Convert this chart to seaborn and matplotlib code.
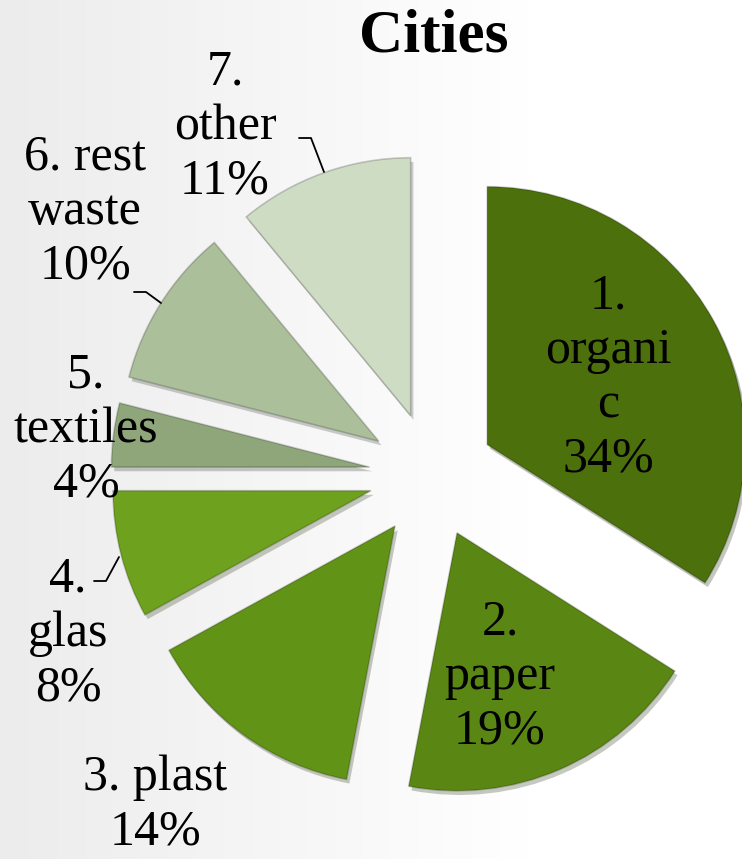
import numpy as np
import matplotlib.pyplot as plt
import matplotlib.patheffects as pe
import seaborn as sns

# waste composition in cities
categories = ["1.\norgani\nc", "2.\npaper", "3. plast", "4.\nglas",
              "5.\ntextiles", "6. rest\nwaste", "7.\nother"]
shares = [34, 19, 14, 8, 4, 10, 11]
colors = ["#4b700c", "#5a8713", "#619317", "#6ea11d",
          "#8ea67a", "#aabf9a", "#cfdcc4"]

# label placement (pixels, y measured from top)
label_pos = [(608, 378), (500, 677), (155, 805), (68, 634),
             (86, 430), (85, 212), (225, 127)]
leaders = {
    3: [(94, 581), (106, 581), (119, 557)],
    5: [(134, 292), (146, 292), (161, 303)],
    6: [(299, 138), (311, 138), (324, 172)],
}

W, H = 742, 859
sns.set_theme(style="white")
plt.rcParams['font.family'] = ['Liberation Serif', 'DejaVu Serif']

fig = plt.figure(figsize=(W / 100, H / 100), dpi=100)
ax = fig.add_axes([0, 0, 1, 1])

# soft grey-to-white background
grad = np.linspace(0, 1, 256)
grad = np.clip(grad * 1.4, 0, 1)[None, :]
ax.imshow(grad, extent=[0, W, 0, H], cmap=sns.blend_palette(["#ececec", "#ffffff"], as_cmap=True),
          aspect='auto', zorder=0)

wedges, _ = ax.pie(shares, colors=colors, startangle=90, counterclock=False,
                   explode=[63] * len(shares), radius=258, center=(432, H - 475),
                   wedgeprops=dict(edgecolor="#00000030", linewidth=1.2))
for w in wedges:
    w.set_zorder(2)
    w.set_path_effects([pe.SimplePatchShadow(offset=(2, -3), alpha=0.25), pe.Normal()])

for i, cat in enumerate(categories):
    x, y = label_pos[i]
    ax.text(x, H - y, f"{cat}\n{shares[i]}%", ha='center', va='center',
            fontsize=36, linespacing=1.22, color='black', zorder=3)

for i, pts in leaders.items():
    xs = [p[0] for p in pts]
    ys = [H - p[1] for p in pts]
    ax.plot(xs, ys, color='black', lw=1.3, zorder=3)

ax.text(434, H - 37, "Cities", ha='center', va='center', fontsize=44,
        fontweight='bold', color='black', zorder=3)

ax.set_xlim(0, W)
ax.set_ylim(0, H)
ax.set_axis_off()

plt.savefig("out.png", dpi=100)
